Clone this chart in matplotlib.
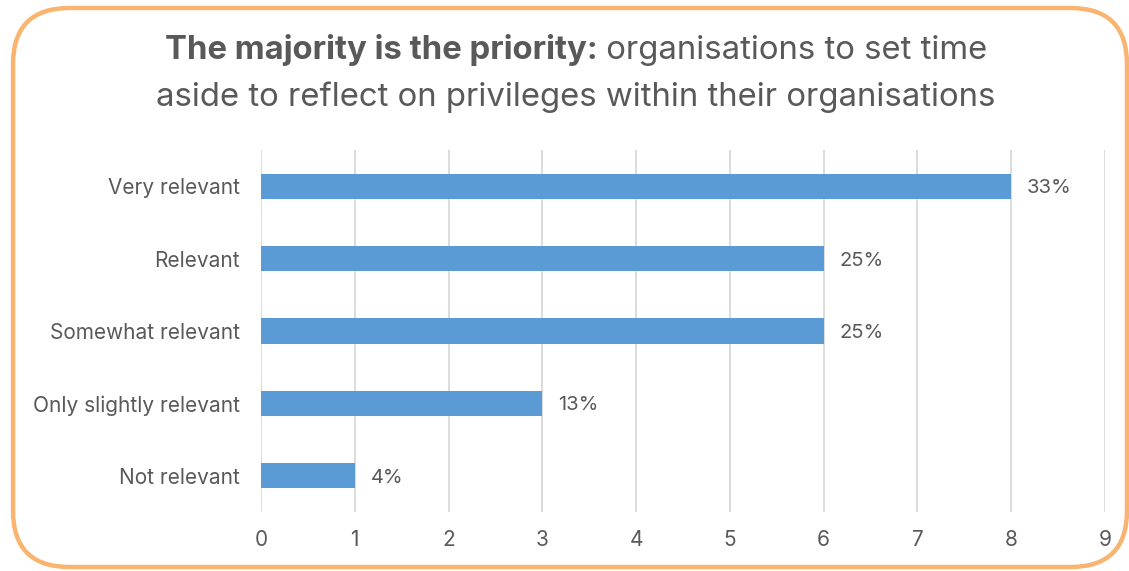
import matplotlib.pyplot as plt
from matplotlib.patches import FancyBboxPatch

categories = ['Very relevant', 'Relevant', 'Somewhat relevant',
              'Only slightly relevant', 'Not relevant']
counts = [8, 6, 6, 3, 1]
pct_labels = ['33%', '25%', '25%', '13%', '4%']
x_ticks = list(range(0, 10))

title_bold = 'The majority is the priority:'
title_rest = ' organisations to set time'
title_line2 = 'aside to reflect on privileges within their organisations'

plt.rcParams['font.family'] = ['Inter', 'DejaVu Sans']
text_col = '#595959'
bar_col = '#5B9BD5'
grid_col = '#D9D9D9'

W, H = 1129, 571
fig = plt.figure(figsize=(W / 100, H / 100), dpi=100)
fig.patch.set_facecolor('white')

# rounded orange frame
frame = FancyBboxPatch((13 / W, 4 / H), 1114 / W, 559 / H,
                       boxstyle='round,pad=0,rounding_size=0.05',
                       transform=fig.transFigure, facecolor='none',
                       edgecolor='#F9B470', linewidth=3.2,
                       mutation_aspect=W / H, zorder=-1)
fig.patches.append(frame)

ax = fig.add_axes([261 / W, 1 - 512 / H, (1105 - 261) / W, (512 - 150) / H])
ax.set_facecolor('none')
ypos = list(range(len(categories)))
ax.barh(ypos, counts, height=0.35, color=bar_col, zorder=3)
ax.set_ylim(len(categories) - 0.5, -0.5)
ax.set_xlim(0, 9)
ax.set_xticks(x_ticks)
ax.set_yticks(ypos)
ax.set_yticklabels(categories)
ax.tick_params(axis='y', length=0, pad=15, labelsize=15, labelcolor=text_col)
ax.tick_params(axis='x', length=0, pad=13, labelsize=15, labelcolor=text_col)
ax.grid(axis='x', color=grid_col, linewidth=1.3, zorder=0)
for s in ax.spines.values():
    s.set_visible(False)

for y, v, lab in zip(ypos, counts, pct_labels):
    ax.text(v + 0.17, y, lab, va='center_baseline', ha='left', fontsize=14.5,
            color=text_col)

# title: bold part + regular part centered together
cx = 576 / W
fs = 23.7
renderer = fig.canvas.get_renderer()
t1 = fig.text(0, 1 - 50 / H, title_bold, fontsize=fs, fontweight='bold',
              color=text_col, va='center', ha='left')
t2 = fig.text(0, 1 - 50 / H, title_rest, fontsize=fs, color=text_col,
              va='center', ha='left')
w1 = t1.get_window_extent(renderer).width / W
w2 = t2.get_window_extent(renderer).width / W
x0 = cx - (w1 + w2) / 2
t1.set_x(x0)
t2.set_x(x0 + w1)
fig.text(cx, 1 - 97 / H, title_line2, fontsize=fs, color=text_col,
         va='center', ha='center')

fig.savefig('out.png', dpi=100)
